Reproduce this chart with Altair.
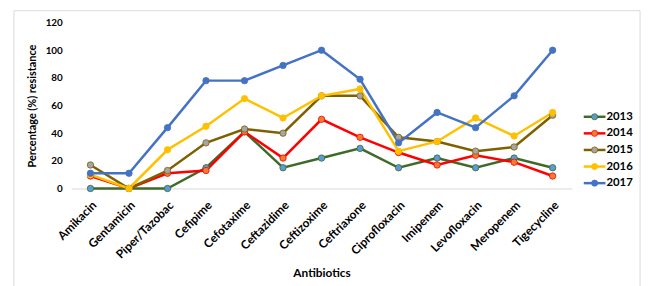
import altair as alt
import pandas as pd

antibiotics = ["Amikacin", "Gentamicin", "Piper/Tazobac", "Cefipime", "Cefotaxime",
               "Ceftazidime", "Ceftizoxime", "Ceftriaxone", "Ciprofloxacin", "Imipenem",
               "Levofloxacin", "Meropenem", "Tigecycline"]
years = ["2013", "2014", "2015", "2016", "2017"]
r2013 = [0, 0, 0, 15, 41, 15, 22, 29, 15, 22, 15, 22, 15]
r2014 = [9, 0, 11, 13, 41, 22, 50, 37, 26, 17, 24, 19, 9]
r2015 = [17, 0, 13, 33, 43, 40, 67, 67, 37, 34, 27, 30, 53]
r2016 = [10, 0, 28, 45, 65, 51, 67, 72, 27, 34, 51, 38, 55]
r2017 = [11, 11, 44, 78, 78, 89, 100, 79, 33, 55, 44, 67, 100]
line_colors = ["#3E6B2A", "#FF0000", "#7F6000", "#FFC000", "#4472C4"]
marker_colors = ["#5B9BD5", "#ED7D31", "#A5A5A5", "#FFC000", "#4472C4"]

series = [r2013, r2014, r2015, r2016, r2017]
rows = []
for yr, vals in zip(years, series):
    for ab, v in zip(antibiotics, vals):
        rows.append({"Antibiotic": ab, "Year": yr, "Value": v})
df = pd.DataFrame(rows)
leg = pd.DataFrame({"Year": years})

FONT = "Lato"

x = alt.X("Antibiotic:N", sort=antibiotics, scale=alt.Scale(padding=0.5),
          axis=alt.Axis(title="Antibiotics", labelAngle=-45, labelFontWeight="bold",
                        labelFontSize=12, labelColor="#000000", titleFontWeight="bold",
                        titleFontSize=12, titleColor="#000000", ticks=False,
                        domainColor="#D9D9D9", labelPadding=11, titlePadding=7))
y = alt.Y("Value:Q", scale=alt.Scale(domain=[0, 120]),
          axis=alt.Axis(title="Percentage (%) resistance", values=[0, 20, 40, 60, 80, 100, 120],
                        grid=False, domain=False, ticks=False, labelFontWeight="bold",
                        labelFontSize=10, labelColor="#000000", titleFontWeight="bold",
                        titleFontSize=11, titleColor="#000000", labelPadding=9,
                        titlePadding=8))

stroke = alt.Stroke("Year:N", scale=alt.Scale(domain=years, range=line_colors), legend=None)
fill = alt.Fill("Year:N", scale=alt.Scale(domain=years, range=marker_colors), legend=None)

lines = alt.Chart(df).mark_line(strokeWidth=2.5).encode(x=x, y=y, stroke=stroke,
                                                        order=alt.Order("Year:N"))
points = alt.Chart(df).mark_point(filled=True, size=42, opacity=1, strokeWidth=0.8).encode(
    x=x, y=y, fill=fill, stroke=stroke)
main = alt.layer(lines, points)

ly = alt.Y("Year:N", scale=alt.Scale(domain=years, range=[87, 171], padding=0), axis=None)
leg_rule = alt.Chart(leg).mark_rule(strokeWidth=2.5).encode(
    x=alt.value(519), x2=alt.value(541), y=ly, stroke=stroke)
leg_pt = alt.Chart(leg).mark_point(filled=True, size=38, opacity=1, strokeWidth=0.8).encode(
    x=alt.value(530), y=ly, fill=fill, stroke=stroke)
leg_txt = alt.Chart(leg).mark_text(align="left", baseline="middle", fontWeight="bold",
                                   fontSize=11.5, font=FONT, color="#000000").encode(
    x=alt.value(542), y=ly, text="Year:N")
legend = alt.layer(leg_rule, leg_pt, leg_txt)

border = alt.Chart(pd.DataFrame({"a": [0]})).mark_rect(fill=None, stroke="#D9D9D9",
                                                       strokeWidth=1).encode(
    x=alt.value(-58), x2=alt.value(576), y=alt.value(-12), y2=alt.value(300))

chart = alt.layer(border, main, legend).resolve_scale(y="independent").properties(
    width=507, height=168,
    autosize=alt.AutoSizeParams(type="none"),
    padding={"left": 64, "top": 13, "right": 72, "bottom": 97},
).configure(font=FONT).configure_view(stroke=None)

chart.save("out.html", embed_options={"renderer": "svg", "actions": False})
